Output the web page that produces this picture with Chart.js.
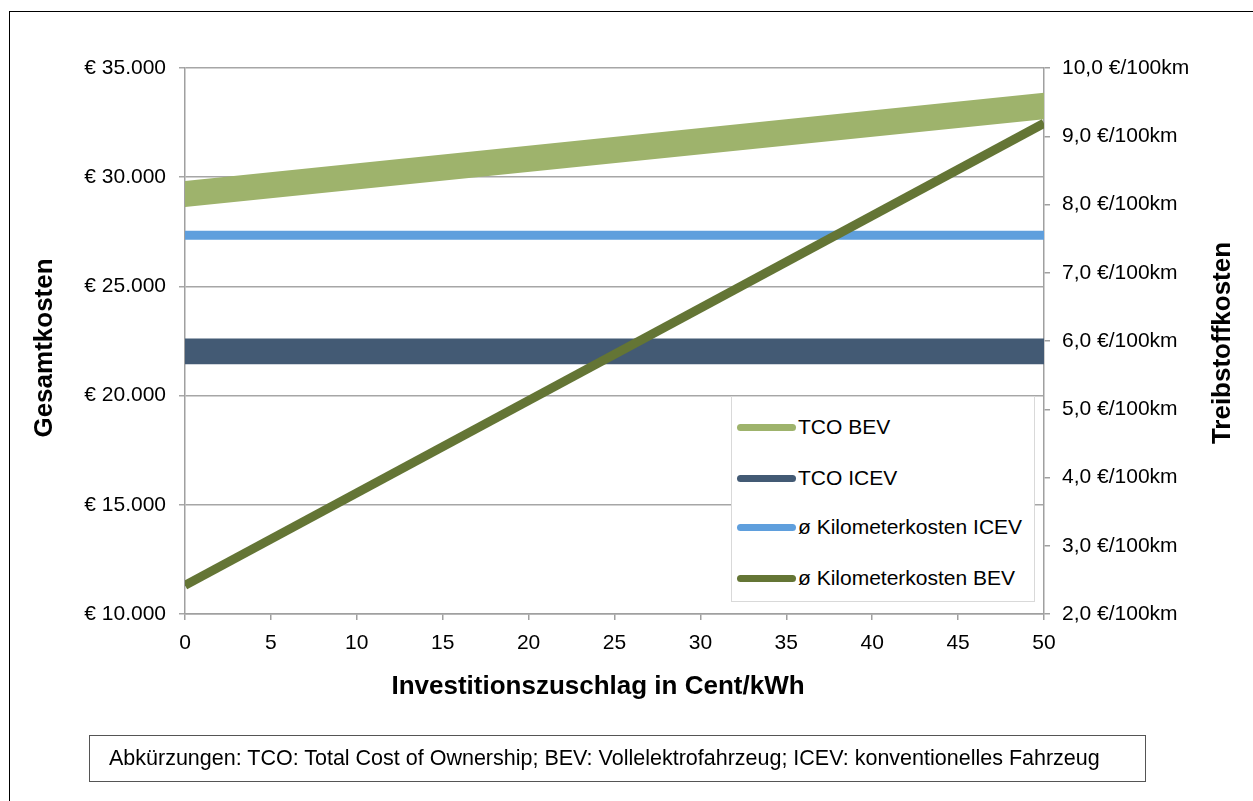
<!DOCTYPE html>
<html lang="de">
<head>
<meta charset="utf-8">
<title>Gesamtkosten und Treibstoffkosten</title>
<script src="https://cdn.jsdelivr.net/npm/chart.js@4.4.1/dist/chart.umd.min.js"></script>
<style>
    html, body {
        margin: 0;
        padding: 0;
        background: #fff;
        width: 1253px;
        height: 801px;
        overflow: hidden;
        font-family: 'Liberation Sans', Arial, sans-serif;
    }
    #frame {
        position: absolute;
        left: 9px;
        top: 11px;
        width: 1300px;
        height: 900px;
        border-left: 1.5px solid #000;
        border-top: 1.5px solid #000;
    }
    #chart {
        position: absolute;
        left: 0;
        top: 0;
    }
    #legend {
        position: absolute;
        left: 731px;
        top: 396px;
        width: 304px;
        height: 206px;
        border: 1.5px solid #d9d9d9;
        background: #fff;
        box-sizing: border-box;
    }
    .legend-item {
        position: absolute;
        left: 5px;
        height: 24px;
        display: flex;
        align-items: center;
        font-size: 21px;
        color: #000;
        white-space: nowrap;
    }
    .legend-swatch {
        width: 59px;
        height: 7px;
        border-radius: 4px;
        margin-right: 2px;
    }
    #note {
        position: absolute;
        left: 89px;
        top: 735px;
        width: 1057px;
        height: 47px;
        border: 1.5px solid #555;
        box-sizing: border-box;
        font-size: 21.5px;
        line-height: 45px;
        padding-left: 19px;
        color: #000;
        white-space: nowrap;
    }
</style>
</head>
<body>
<div id="frame"></div>
<canvas id="chart" width="1253" height="801"></canvas>
<div id="legend"></div>
<div id="note">Abkürzungen: TCO: Total Cost of Ownership; BEV: Vollelektrofahrzeug; ICEV: konventionelles Fahrzeug</div>
<script>
// Investitionszuschlag in Cent/kWh
const xValues = [0, 50];

// Gesamtkosten (linke Achse, Euro) - Bänder als Unter-/Obergrenze
const tcoBevLower = [28640, 32650];
const tcoBevUpper = [29830, 33870];
const tcoIcevLower = [21430, 21430];
const tcoIcevUpper = [22620, 22620];

// Treibstoffkosten (rechte Achse, €/100km)
const kmIcev = [7.55, 7.55];
const kmBev = [2.42, 9.19];

// Achsen
const leftTicks = [10000, 15000, 20000, 25000, 30000, 35000];
const rightTicks = [2, 3, 4, 5, 6, 7, 8, 9, 10];
const xTicks = [0, 5, 10, 15, 20, 25, 30, 35, 40, 45, 50];

const legendLabels = ['TCO BEV', 'TCO ICEV', 'ø Kilometerkosten ICEV', 'ø Kilometerkosten BEV'];

const COLORS = {
    TCO_BEV: '#9eb36c',
    TCO_ICEV: '#435a74',
    KM_ICEV: '#5f9fdd',
    KM_BEV: '#647535',
    GRID: '#a6a6a6',
    AXIS: '#a0a0a0'
};
const legendColors = [COLORS.TCO_BEV, COLORS.TCO_ICEV, COLORS.KM_ICEV, COLORS.KM_BEV];

const FONT = "'Liberation Sans', Arial, sans-serif";

function toPoints(values) {
    return values.map((v, i) => ({ x: xValues[i], y: v }));
}

function formatEuro(value) {
    return '€ ' + String(value).replace(/\B(?=(\d{3})+(?!\d))/g, '.');
}

function formatKm(value) {
    return value.toFixed(1).replace('.', ',') + ' €/100km';
}

// Achsentitel an festen Positionen
const axisTitles = {
    id: 'axisTitles',
    afterDraw(chart) {
        const ctx = chart.ctx;
        ctx.save();
        ctx.fillStyle = '#000';
        ctx.font = 'bold 26px ' + FONT;
        ctx.textAlign = 'center';
        ctx.textBaseline = 'middle';

        ctx.fillText('Investitionszuschlag in Cent/kWh', 598, 687);

        ctx.save();
        ctx.translate(45, 348);
        ctx.rotate(-Math.PI / 2);
        ctx.fillText('Gesamtkosten', 0, 0);
        ctx.restore();

        ctx.save();
        ctx.translate(1223, 343);
        ctx.rotate(-Math.PI / 2);
        ctx.fillText('Treibstoffkosten', 0, 0);
        ctx.restore();

        ctx.restore();
    }
};

const lineDefaults = {
    pointRadius: 0,
    pointHoverRadius: 0,
    tension: 0,
    clip: 0
};

const chart = new Chart(document.getElementById('chart').getContext('2d'), {
    type: 'line',
    data: {
        datasets: [
            {
                ...lineDefaults,
                label: 'ø Kilometerkosten BEV',
                data: toPoints(kmBev),
                yAxisID: 'yRight',
                borderColor: COLORS.KM_BEV,
                borderWidth: 9,
                fill: false
            },
            {
                ...lineDefaults,
                label: 'ø Kilometerkosten ICEV',
                data: toPoints(kmIcev),
                yAxisID: 'yRight',
                borderColor: COLORS.KM_ICEV,
                borderWidth: 9,
                fill: false
            },
            {
                ...lineDefaults,
                label: 'TCO ICEV (unten)',
                data: toPoints(tcoIcevLower),
                yAxisID: 'y',
                borderWidth: 0,
                borderColor: COLORS.TCO_ICEV,
                fill: false
            },
            {
                ...lineDefaults,
                label: 'TCO ICEV',
                data: toPoints(tcoIcevUpper),
                yAxisID: 'y',
                borderWidth: 0,
                borderColor: COLORS.TCO_ICEV,
                backgroundColor: COLORS.TCO_ICEV,
                fill: '-1'
            },
            {
                ...lineDefaults,
                label: 'TCO BEV (unten)',
                data: toPoints(tcoBevLower),
                yAxisID: 'y',
                borderWidth: 0,
                borderColor: COLORS.TCO_BEV,
                fill: false
            },
            {
                ...lineDefaults,
                label: 'TCO BEV',
                data: toPoints(tcoBevUpper),
                yAxisID: 'y',
                borderWidth: 0,
                borderColor: COLORS.TCO_BEV,
                backgroundColor: COLORS.TCO_BEV,
                fill: '-1'
            }
        ]
    },
    options: {
        responsive: false,
        animation: false,
        layout: {
            padding: { top: 68, left: 0, right: 0, bottom: 0 }
        },
        plugins: {
            legend: { display: false },
            tooltip: { enabled: false },
            filler: { propagate: false }
        },
        scales: {
            x: {
                type: 'linear',
                min: 0,
                max: 50,
                afterFit(scale) { scale.height = 801 - 614; },
                afterBuildTicks(scale) { scale.ticks = xTicks.map(v => ({ value: v })); },
                grid: {
                    drawOnChartArea: false,
                    drawTicks: true,
                    tickLength: 6,
                    color: COLORS.AXIS,
                    lineWidth: 1.5
                },
                border: { display: true, color: COLORS.AXIS, width: 1.5 },
                ticks: {
                    color: '#000',
                    padding: 11,
                    maxRotation: 0,
                    font: { family: FONT, size: 21 }
                }
            },
            y: {
                type: 'linear',
                position: 'left',
                min: 10000,
                max: 35000,
                afterFit(scale) { scale.width = 185; },
                afterBuildTicks(scale) { scale.ticks = leftTicks.map(v => ({ value: v })); },
                grid: {
                    color: COLORS.GRID,
                    lineWidth: 1.5,
                    tickLength: 6
                },
                border: { display: true, color: COLORS.AXIS, width: 1.5 },
                ticks: {
                    color: '#000',
                    padding: 13,
                    font: { family: FONT, size: 21 },
                    callback: formatEuro
                }
            },
            yRight: {
                type: 'linear',
                position: 'right',
                min: 2,
                max: 10,
                afterFit(scale) { scale.width = 1253 - 1044; },
                afterBuildTicks(scale) { scale.ticks = rightTicks.map(v => ({ value: v })); },
                grid: {
                    drawOnChartArea: false,
                    drawTicks: true,
                    tickLength: 6,
                    color: COLORS.AXIS,
                    lineWidth: 1.5
                },
                border: { display: true, color: COLORS.AXIS, width: 1.5 },
                ticks: {
                    color: '#000',
                    padding: 12,
                    font: { family: FONT, size: 21 },
                    callback: formatKm
                }
            }
        }
    },
    plugins: [axisTitles]
});

// HTML-Legende
const legendEl = document.getElementById('legend');
const legendRowCenters = [30, 81, 130, 181];
legendLabels.forEach((label, i) => {
    const item = document.createElement('div');
    item.className = 'legend-item';
    item.style.top = (legendRowCenters[i] - 12) + 'px';
    const swatch = document.createElement('span');
    swatch.className = 'legend-swatch';
    swatch.style.background = legendColors[i];
    const text = document.createElement('span');
    text.textContent = label;
    item.appendChild(swatch);
    item.appendChild(text);
    legendEl.appendChild(item);
});
</script>
</body>
</html>
